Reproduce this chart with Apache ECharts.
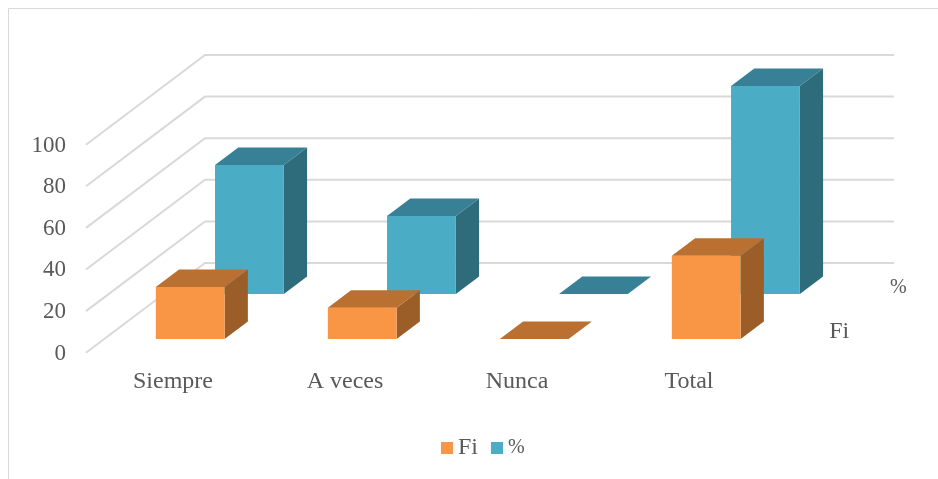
<!DOCTYPE html>
<html><head><meta charset="utf-8">
<style>html,body{margin:0;padding:0;background:#fff}#c{width:938px;height:479px}</style>
<script src="https://cdn.jsdelivr.net/npm/echarts@6/dist/echarts.min.js"></script>
</head><body><div id="c"></div>
<script>
var categories = ['Siempre', 'A veces', 'Nunca', 'Total'];
var fiValues = [25, 15, 0, 40];
var pctValues = [62, 37.5, 0, 100];
var yTicks = [0, 20, 40, 60, 80, 100];

var WALL_DX = 118, WALL_DY = 89;
var BAR_WIDTH = 0.4;
var FONT = '"Liberation Serif","Times New Roman",serif';
var TEXT = '#595959';

function wallItem(params, api) {
  var v = api.value(0);
  var band = api.size([1, 0])[0];
  var p = api.coord([0, v]);
  var x0 = p[0] - band / 2, y0 = p[1];
  return {
    type: 'polyline',
    shape: { points: [[x0 - 1, y0 + 0.7], [x0 + WALL_DX, y0 - WALL_DY], [x0 + band * categories.length + WALL_DX + 1, y0 - WALL_DY]] },
    style: { fill: null, stroke: '#D9D9D9', lineWidth: 2 }
  };
}

function barRenderer(name, d0, colors, labelSize, shiftX, labelDy) {
  var D = 0.197;
  return function (params, api) {
    var i = api.value(0), v = api.value(1);
    var band = api.size([1, 0])[0];
    var w = band * BAR_WIDTH;
    var base = api.coord([i, 0]), top = api.coord([i, v]);
    var ox = WALL_DX * d0, oy = -WALL_DY * d0;
    var xl = base[0] + ox - w / 2 + shiftX, xr = xl + w;
    var yb = base[1] + oy, yt = top[1] + oy;
    var dx = WALL_DX * D, dy = -WALL_DY * D;
    var children = [];
    if (yb - yt > 0.5) {
      children.push({ type: 'polygon', shape: { points: [[xr, yb], [xr + dx, yb + dy], [xr + dx, yt + dy], [xr, yt]] }, style: { fill: colors[2] } });
      children.push({ type: 'rect', shape: { x: xl, y: yt, width: w, height: yb - yt }, style: { fill: colors[0] } });
    }
    children.push({ type: 'polygon', shape: { points: [[xl, yt], [xr, yt], [xr + dx, yt + dy], [xl + dx, yt + dy]] }, style: { fill: colors[1] } });
    if (i === categories.length - 1) {
      children.push({ type: 'text', x: xl + w / 2 + 133, y: yb + labelDy, style: { text: name, font: labelSize + 'px ' + FONT, fill: TEXT, align: 'center', verticalAlign: 'middle' } });
    }
    return { type: 'group', children: children };
  };
}

function pairs(arr) { return arr.map(function (v, i) { return [i, v]; }); }

var chart = echarts.init(document.getElementById('c'), null, { renderer: 'canvas' });
chart.setOption({
  animation: false,
  backgroundColor: '#fff',
  graphic: [{ type: 'rect', silent: true, z: -1, shape: { x: 8.5, y: 8.5, width: 960, height: 500 }, style: { fill: null, stroke: '#D9D9D9', lineWidth: 1 } }],
  grid: { left: 87, right: 163, top: 144, bottom: 127 },
  legend: {
    data: ['Fi', '%'], left: 436, top: 431, icon: 'rect', itemWidth: 12, itemHeight: 12, itemGap: 13,
    formatter: function (n) { return n === '%' ? '{p|%}' : n; },
    textStyle: { fontFamily: FONT, fontSize: 24, color: TEXT, rich: { p: { fontFamily: FONT, fontSize: 20, color: TEXT } } }
  },
  xAxis: {
    type: 'category', data: categories,
    axisLine: { show: false }, axisTick: { show: false }, splitLine: { show: false },
    axisLabel: { fontFamily: FONT, fontSize: 24, color: TEXT, margin: 18 }
  },
  yAxis: {
    type: 'value', min: 0, max: 100, interval: 20,
    axisLine: { show: false }, axisTick: { show: false }, splitLine: { show: false },
    axisLabel: { fontFamily: FONT, fontSize: 23, color: TEXT, margin: 21, verticalAlign: 'top', lineHeight: 3 }
  },
  series: [
    { name: 'walls', type: 'custom', z: 1, silent: true, clip: false, data: yTicks.map(function (t) { return [t]; }), encode: { y: 0 }, renderItem: wallItem },
    { name: '%', type: 'custom', z: 2, clip: false, itemStyle: { color: '#4BACC6' }, data: pairs(pctValues), encode: { x: 0, y: 1 }, renderItem: barRenderer('%', 0.652, ['#4BACC6', '#378095', '#2E6B7B'], 20, -0.5, -6) },
    { name: 'Fi', type: 'custom', z: 3, clip: false, itemStyle: { color: '#F79646' }, data: pairs(fiValues), encode: { x: 0, y: 1 }, renderItem: barRenderer('Fi', 0.146, ['#F99646', '#B97030', '#9C5E28'], 24, 0, -7) }
  ]
});
</script></body></html>
